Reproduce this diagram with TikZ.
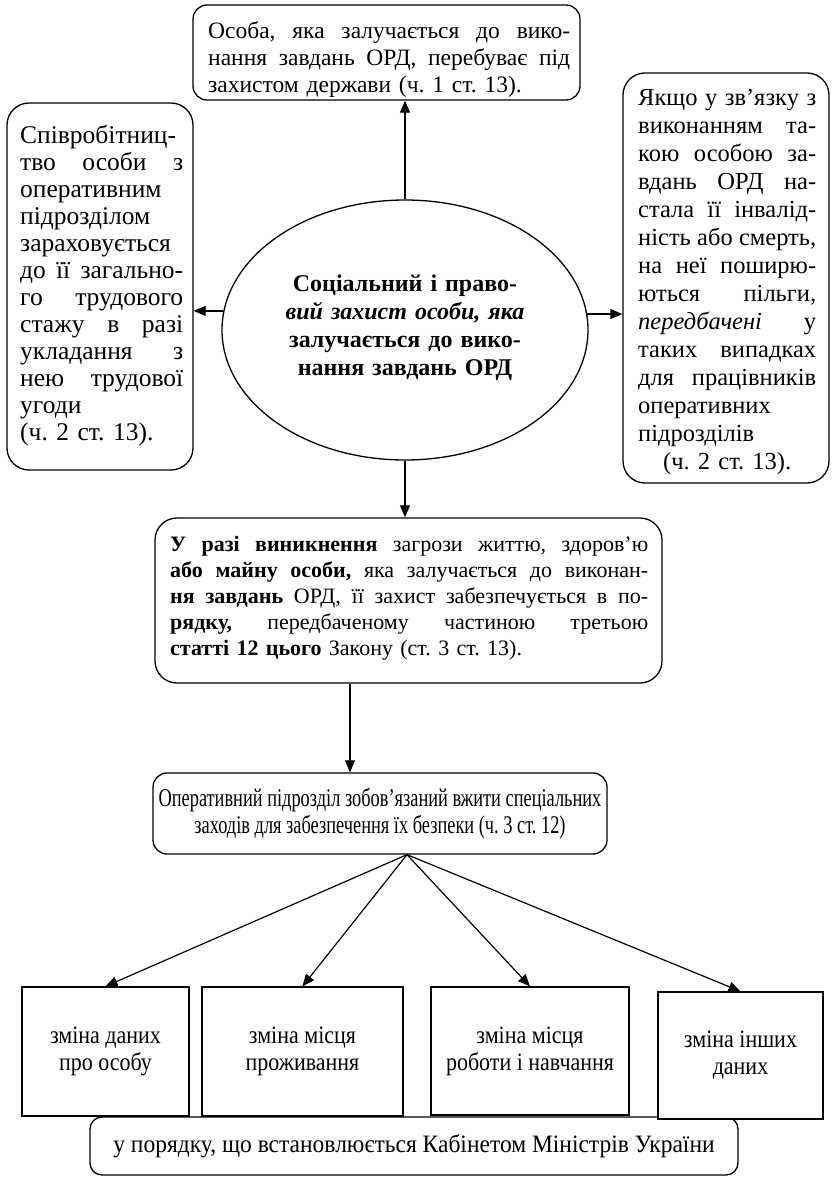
\documentclass[tikz,border=0pt]{standalone}
\usepackage{fontspec}
\setmainfont{Liberation Serif}
\newfontfamily\condfont{Liberation Serif}[FakeStretch=0.72]
\newfontfamily\boxfont{Liberation Serif}[FakeStretch=0.88]
\newfontfamily\barfont{Liberation Serif}[FakeStretch=0.94]
\usetikzlibrary{arrows.meta,shapes.geometric}
\frenchspacing
\newlength\jw
\newcommand\J[1]{\noindent\hbox to\jw{\spaceskip=.25em plus 1fil\relax#1}}
\newcommand\Cl[1]{\noindent\hbox to\jw{\hss#1\hss}}
\begin{document}
\begin{tikzpicture}[x=1pt,y=-1pt,
  box/.style={draw,line width=1.3pt,inner sep=0pt},
  rbox/.style={box,rounded corners=22pt},
  txt/.style={inner sep=0pt,anchor=base west,align=left},
  arr/.style={line width=1.2pt,-{Triangle[length=12pt,width=10pt]}},
]
\useasboundingbox (0,0) rectangle (832,1183);

% top box
\node[rbox, rounded corners=14pt, minimum width=387pt, minimum height=95pt] (top) at (386.5,52.5) {};
\node[txt, text width=362pt, execute at begin node={\setlength\jw{362pt}}, font=\fontsize{23.5}{27}\selectfont] (topt) at (208,38) {\J{Особа, яка залучається до вико-}\\\J{нання завдань ОРД, перебуває під}\\захистом держави (ч. 1 ст. 13).};

% left box
\node[rbox, minimum width=186pt, minimum height=367pt] (left) at (100,286.5) {};
\node[txt, text width=163pt, execute at begin node={\setlength\jw{163pt}}, font=\fontsize{25.5}{27}\selectfont] (leftt) at (20,143) {\J{Співробітниц-}\\\J{тво особи з}\\оперативним\\підрозділом\\зараховується\\\J{до її загально-}\\\J{го трудового}\\\J{стажу в разі}\\\J{укладання з}\\\J{нею трудової}\\угоди\\(ч. 2 ст. 13).};

% right box
\node[rbox, minimum width=206pt, minimum height=410pt] (right) at (726,278) {};
\node[txt, text width=178pt, execute at begin node={\setlength\jw{178pt}}, font=\fontsize{24.5}{28}\selectfont] (rightt) at (638,105) {\J{Якщо у зв’язку з}\\\J{виконанням та-}\\\J{кою особою за-}\\\J{вдань ОРД на-}\\\J{стала її інвалід-}\\\J{ність або смерть,}\\\J{на неї поширю-}\\\J{ються пільги,}\\\J{\textit{передбачені} у}\\\J{таких випадках}\\\J{для працівників}\\оперативних\\підрозділів\\\Cl{(ч. 2 ст. 13).}};

% ellipse
\node[ellipse, draw, line width=1.3pt, minimum width=366pt, minimum height=260pt, inner sep=0pt] (ell) at (405,330) {};
\node[txt, anchor=base, align=center, text width=260pt, font=\bfseries\fontsize{24}{28}\selectfont] (ellt) at (405,291) {Соціальний і право-\\\textit{вий захист особи, яка}\\залучається до вико-\\нання завдань ОРД};

% middle box
\node[rbox, minimum width=507pt, minimum height=165pt] (mid) at (408.5,600.5) {};
\node[txt, text width=478pt, execute at begin node={\setlength\jw{478pt}}, font=\fontsize{22}{26}\selectfont] (midt) at (170,551) {\J{\textbf{У разі виникнення} загрози життю, здоров’ю}\\\J{\textbf{або майну особи,} яка залучається до виконан-}\\\J{\textbf{ня завдань} ОРД, її захист забезпечується в по-}\\\J{\textbf{рядку,} передбаченому частиною третьою}\\\textbf{статті 12 цього} Закону (ст. 3 ст. 13).};

% operative box
\node[rbox, rounded corners=14pt, minimum width=454pt, minimum height=81pt, align=center, font=\condfont\fontsize{25.5}{27}\selectfont] (op) at (380,813.5) {Оперативний підрозділ зобов’язаний вжити спеціальних\\заходів для забезпечення їх безпеки (ч. 3 ст. 12)};

% bottom bar
\node[rbox, rounded corners=12pt, minimum width=648pt, minimum height=58pt, font=\barfont\fontsize{25}{27}\selectfont] (bar) at (414,1146) {у порядку, що встановлюється Кабінетом Міністрів України};

% bottom boxes
\tikzset{bb/.style={box, fill=white, align=center, font=\boxfont\fontsize{25}{27}\selectfont}}
\node[bb, minimum width=167pt, minimum height=129pt] (b1) at (105.5,1051.5) {зміна даних\\про особу};
\node[bb, minimum width=201pt, minimum height=129pt] (b2) at (302.5,1051.5) {зміна місця\\проживання};
\node[bb, minimum width=198pt, minimum height=128pt] (b3) at (530,1051) {зміна місця\\роботи і навчання};
\node[bb, minimum width=165pt, minimum height=127pt] (b4) at (740.5,1055.5) {зміна інших\\даних};

% connectors
\draw[arr] (ell.north) -- (ell.north |- top.south);
\draw[arr] (ell.174.6) -- (ell.174.6 -| left.east);
\draw[arr] (ell.5.4) -- (ell.5.4 -| right.west);
\draw[arr] (ell.south) -- (ell.south |- mid.north);
\draw[arr] ([xshift=-58.5pt]mid.south) -- ([xshift=-30pt]op.north);
\draw[arr] ([xshift=27pt]op.south) -- (b1.north);
\draw[arr] ([xshift=27pt]op.south) -- (b2.north);
\draw[arr] ([xshift=27pt]op.south) -- (b3.north);
\draw[arr] ([xshift=27pt]op.south) -- (b4.north);
\end{tikzpicture}
\end{document}
